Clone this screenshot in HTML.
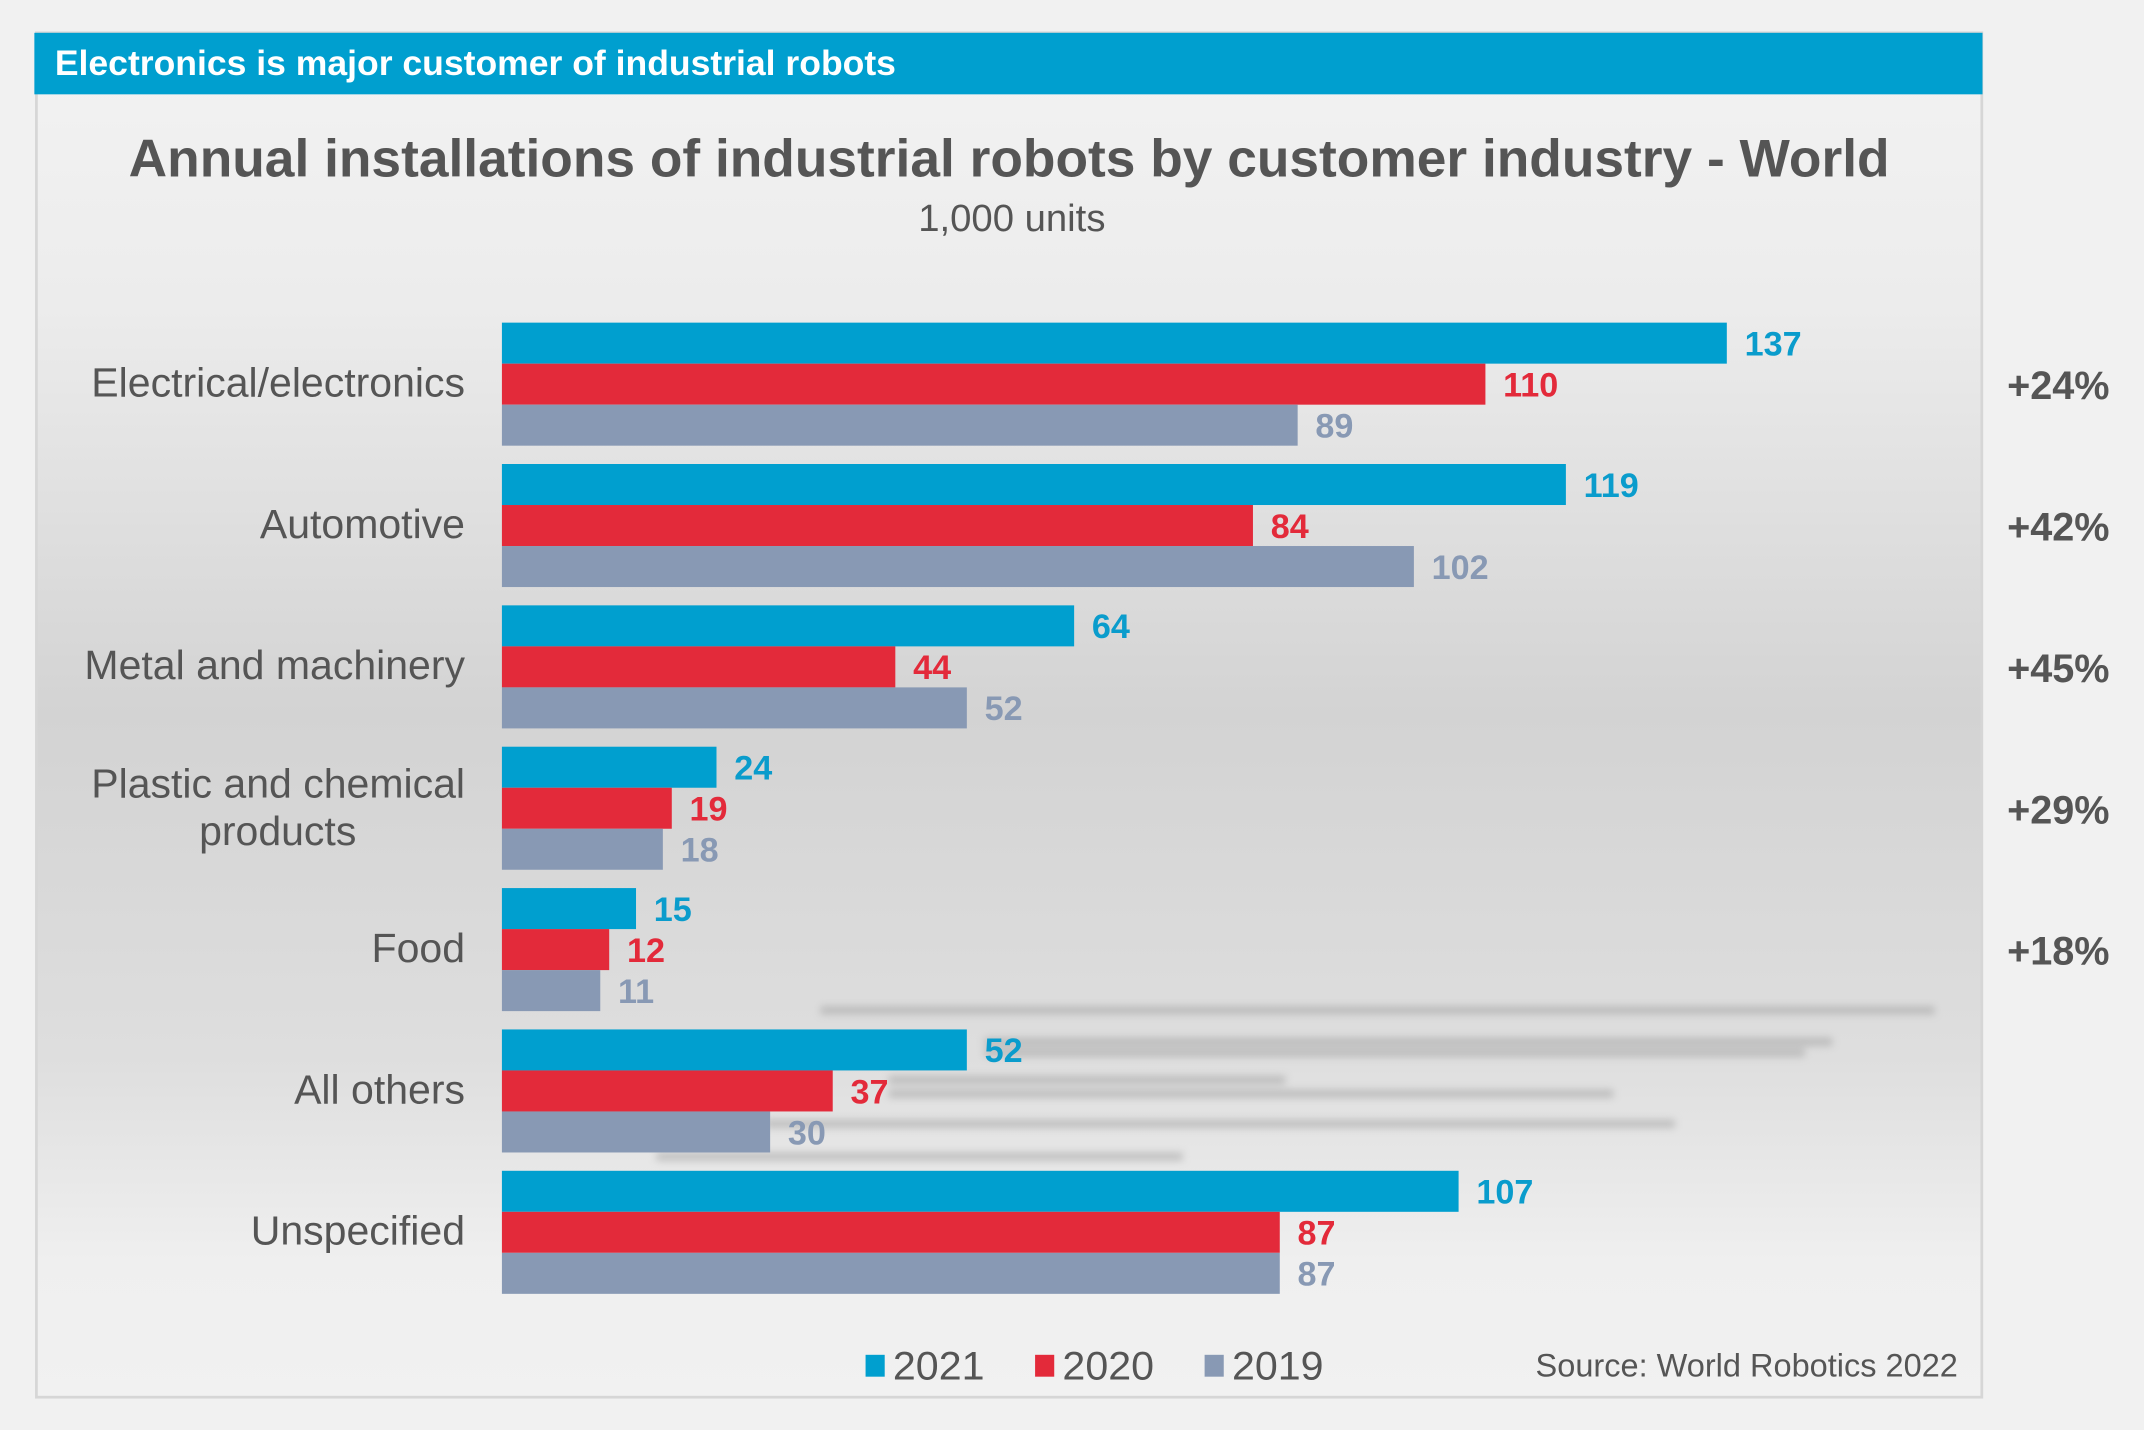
<!DOCTYPE html>
<html><head><meta charset="utf-8"><style>
html,body{margin:0;padding:0;background:#f1f1f1;}
svg{display:block;font-family:"Liberation Sans",Arial,sans-serif;}
</style></head><body>
<svg id="chart" width="2144" height="1430" viewBox="0 0 1568 1046" xmlns="http://www.w3.org/2000/svg">
<defs>
<linearGradient id="bg" x1="0" y1="0" x2="0" y2="1">
<stop offset="0" stop-color="#f3f3f3"/>
<stop offset="0.2" stop-color="#ececec"/>
<stop offset="0.5" stop-color="#d3d3d3"/>
<stop offset="0.75" stop-color="#dedede"/>
<stop offset="0.9" stop-color="#efefef"/>
<stop offset="1" stop-color="#f1f1f1"/>
</linearGradient>
<filter id="blur"><feGaussianBlur stdDeviation="3"/></filter>
</defs>
<rect x="0" y="0" width="1568" height="1046" fill="#f1f1f1"/>
<rect x="26.5" y="24" width="1423" height="998" fill="url(#bg)" stroke="#d6d6d6" stroke-width="2"/>
<rect x="25" y="24" width="1425" height="45" fill="#009fcf"/>
<text x="40" y="55" font-size="26" font-weight="bold" fill="#fff">Electronics is major customer of industrial robots</text>
<text x="738" y="129" font-size="39" font-weight="bold" fill="#555" text-anchor="middle">Annual installations of industrial robots by customer industry - World</text>
<text x="740" y="169" font-size="28" fill="#555" text-anchor="middle">1,000 units</text>
<g filter="url(#blur)" opacity="0.5" stroke="#999" stroke-width="6">
<line x1="600" y1="739" x2="1415" y2="739"/>
<line x1="720" y1="762" x2="1340" y2="762"/>
<line x1="720" y1="770" x2="1320" y2="770"/>
<line x1="650" y1="790" x2="940" y2="790"/>
<line x1="650" y1="800" x2="1180" y2="800"/>
<line x1="560" y1="822" x2="1225" y2="822"/>
<line x1="480" y1="846" x2="865" y2="846"/>
</g>
<g id="bars"></g>
<g>
<rect x="633" y="991" width="14" height="16" fill="#009fcf"/>
<text x="653" y="1009" font-size="29" fill="#555" textLength="67" lengthAdjust="spacingAndGlyphs">2021</text>
<rect x="757" y="991" width="14" height="16" fill="#e32a3a"/>
<text x="777" y="1009" font-size="29" fill="#555" textLength="67" lengthAdjust="spacingAndGlyphs">2020</text>
<rect x="881" y="991" width="14" height="16" fill="#8899b4"/>
<text x="901" y="1009" font-size="29" fill="#555" textLength="67" lengthAdjust="spacingAndGlyphs">2019</text>
</g>
<text x="1432" y="1007" font-size="23.8" fill="#555" text-anchor="end">Source: World Robotics 2022</text>
</svg>
<script>
const categories = [["Electrical/electronics"],["Automotive"],["Metal and machinery"],["Plastic and chemical","products"],["Food"],["All others"],["Unspecified"]];
const v2021 = [137,119,64,24,15,52,107];
const v2020 = [110,84,44,19,12,37,87];
const v2019 = [89,102,52,18,11,30,87];
const growth = ["+24%","+42%","+45%","+29%","+18%","",""];
const seriesNames = ["2021","2020","2019"];
const colors = ["#009fcf","#e32a3a","#8899b4"];
const labelColors = ["#0a9ccc","#e32a3a","#8899b4"];
const x0 = 367, unit = 6.54, top0 = 236, groupStep = 103.4, barH = 30;
const xs = v => x0 + v*unit;
const g = document.getElementById('bars');
const NS = "http://www.w3.org/2000/svg";
const series = [v2021, v2020, v2019];
categories.forEach((cat, i) => {
  const gy = top0 + i*groupStep;
  series.forEach((vals, s) => {
    const y = gy + s*barH;
    const r = document.createElementNS(NS,'rect');
    
    
    r.setAttribute('x', x0); r.setAttribute('y', y);
    r.setAttribute('width', xs(vals[i]) - x0); r.setAttribute('height', barH);
    r.setAttribute('fill', colors[s]);
    g.appendChild(r);
    const t = document.createElementNS(NS,'text');
    
    
    t.setAttribute('x', xs(vals[i]) + 13); t.setAttribute('y', y + 24);
    t.setAttribute('font-size', '25'); t.setAttribute('font-weight', 'bold');
    t.setAttribute('fill', labelColors[s]);
    t.textContent = vals[i];
    g.appendChild(t);
  });
  const cy = gy + 1.5*barH;
  const lt = document.createElementNS(NS,'text');
  
  
  lt.setAttribute('x', 340); lt.setAttribute('font-size', '30'); lt.setAttribute('fill', '#555');
  lt.setAttribute('text-anchor', 'end');
  if (cat.length === 1) {
    lt.setAttribute('y', cy + 9);
    lt.textContent = cat[0];
  } else {
    lt.setAttribute('y', cy - 8);
    cat.forEach((line, k) => {
      const ts = document.createElementNS(NS,'tspan');
      ts.setAttribute('x', k === 0 ? 340 : 203);
      if (k > 0) { ts.setAttribute('dy', 35); ts.setAttribute('text-anchor', 'middle'); }
      ts.textContent = line;
      lt.appendChild(ts);
    });
  }
  g.appendChild(lt);
  if (growth[i]) {
    const p = document.createElementNS(NS,'text');
    
    
    p.setAttribute('x', 1468); p.setAttribute('y', cy + 11);
    p.setAttribute('font-size', '29'); p.setAttribute('font-weight', 'bold'); p.setAttribute('fill', '#555');
    p.textContent = growth[i];
    g.appendChild(p);
  }
});
</script>
</body></html>
